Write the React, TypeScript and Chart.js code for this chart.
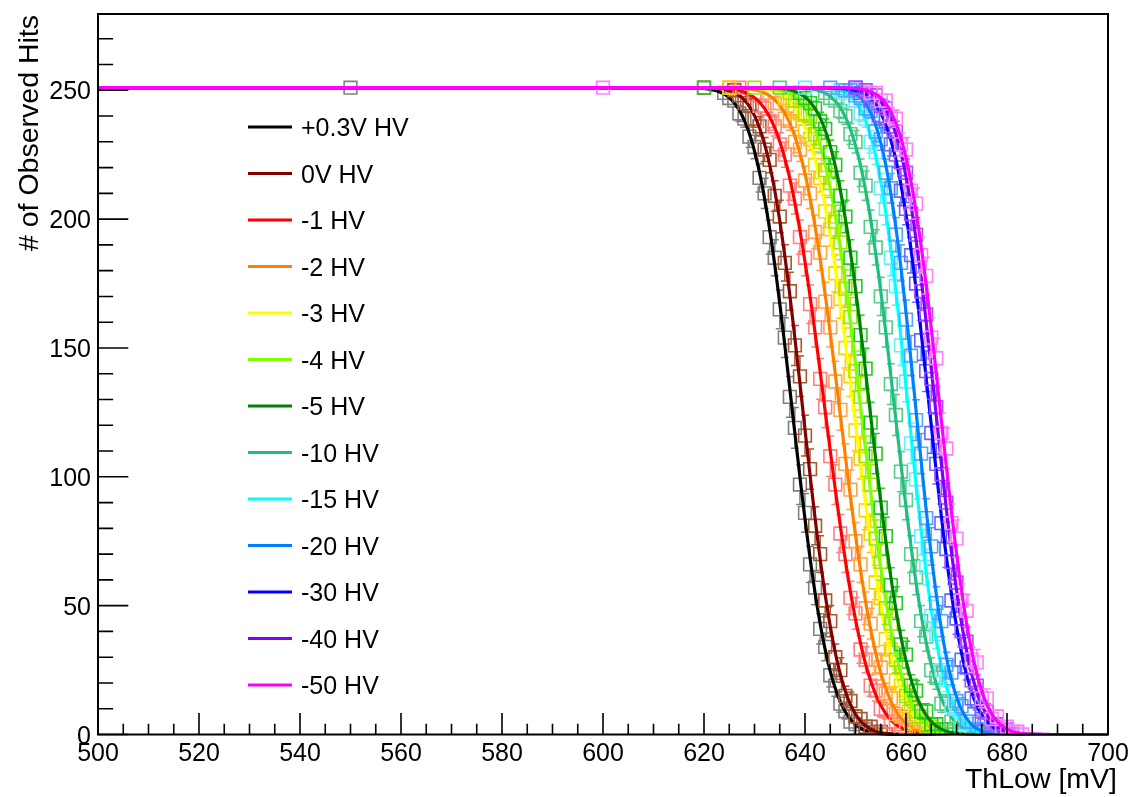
import { useEffect, useRef } from "react";
import { Chart, registerables } from "chart.js";

Chart.register(...registerables);

// ---- series definitions ----------------------------------------------------
const seriesLabels = [
  "+0.3V HV", "0V HV", "-1 HV", "-2 HV", "-3 HV", "-4 HV", "-5 HV",
  "-10 HV", "-15 HV", "-20 HV", "-30 HV", "-40 HV", "-50 HV",
];

const lineColors = [
  "#000000", "#840000", "#ff0000", "#ff8000", "#ffff00", "#80ff00", "#008000",
  "#1fbf7f", "#00ffff", "#0080ff", "#0000ff", "#8000ff", "#ff00ff",
];

const markerColors = [
  "#808080", "#a8582e", "#ff8080", "#ffa64d", "#ffcc00", "#9ee600", "#22cc22",
  "#55cc88", "#66eeff", "#4da6ff", "#6666ff", "#a64dff", "#ff80ff",
];

// erfc fit results: A * erfc((x - mean) / (sqrt(2) * sigma)) / 2
const fitAmplitude = [251, 251, 251, 251, 251, 251, 251, 251, 251, 251, 251, 251, 251];
const fitMean = [637.5, 639.6, 644.0, 646.9, 649.7, 651.1, 652.9, 657.8, 660.5, 662.0, 664.7, 665.9, 666.8];
const fitSigma = [5.8, 5.6, 6.5, 6.2, 6.3, 6.0, 5.9, 5.8, 5.2, 5.1, 5.5, 5.4, 5.5];

// ---- threshold scans (ThLow in mV, observed hits out of 251 triggers) --------
const triggers = 251;

// single coarse point taken before each fine scan
const coarseX = [550, 620, 627, 625, 625, 630, 620, 635, 640, 645, 650, 650, 600];
const coarseHits = [251, 251, 251, 251, 251, 251, 251, 251, 251, 251, 251, 251, 251];

// fine scan: first ThLow value, then 1 mV steps
const scanStart = [624, 626, 630, 633, 636, 637, 639, 644, 647, 648, 651, 652, 653];

const hitsP03V = [249, 247, 246, 241, 239, 232, 228, 216, 210, 193, 185, 165, 154, 131, 119, 97, 86, 66, 57, 41, 34, 23, 19, 12, 9, 5, 4, 2, 2, 1, 0];
const hits0V = [250, 248, 245, 244, 239, 236, 227, 223, 209, 201, 183, 172, 151, 139, 116, 103, 81, 70, 52, 44, 30, 25, 15, 13, 7, 6, 3, 3, 1, 1, 0];
const hitsM1 = [248, 244, 243, 238, 236, 229, 225, 213, 208, 193, 185, 167, 158, 138, 127, 108, 97, 78, 70, 53, 47, 33, 29, 19, 17, 10, 9, 5, 4, 2, 2];
const hitsM2 = [249, 245, 245, 239, 238, 230, 227, 215, 210, 195, 187, 168, 158, 137, 126, 105, 95, 75, 66, 49, 43, 29, 26, 16, 14, 8, 7, 3, 4, 1, 1];
const hitsM3 = [247, 246, 242, 241, 234, 231, 221, 216, 203, 196, 179, 169, 150, 139, 118, 107, 87, 78, 59, 53, 37, 33, 21, 19, 11, 10, 5, 5, 2, 2, 1];
const hitsM4 = [249, 246, 246, 241, 240, 233, 230, 219, 214, 199, 191, 173, 162, 141, 131, 108, 97, 76, 67, 49, 43, 29, 26, 15, 14, 7, 7, 3, 3, 1, 1];
const hitsM5 = [249, 247, 245, 243, 238, 235, 226, 221, 209, 201, 185, 174, 155, 142, 121, 109, 88, 77, 58, 51, 35, 31, 19, 17, 9, 9, 4, 4, 2, 2, 0];
const hitsM10 = [249, 247, 246, 242, 240, 233, 230, 218, 213, 197, 189, 170, 158, 136, 124, 102, 91, 70, 61, 44, 38, 25, 22, 12, 12, 5, 6, 2, 2, 1, 0];
const hitsM15 = [250, 249, 246, 246, 241, 239, 230, 226, 212, 204, 185, 174, 151, 137, 113, 99, 77, 65, 46, 39, 25, 21, 11, 10, 4, 4, 1, 2, 0, 1, 0];
const hitsM20 = [250, 250, 248, 247, 243, 242, 234, 231, 218, 212, 194, 183, 161, 147, 122, 109, 84, 73, 51, 44, 27, 24, 13, 11, 5, 5, 2, 2, 0, 1, 0];
const hitsM30 = [249, 249, 246, 245, 240, 238, 229, 225, 211, 204, 186, 175, 153, 141, 117, 105, 82, 72, 52, 45, 29, 26, 14, 13, 6, 6, 2, 3, 1, 1, 0];
const hitsM40 = [250, 248, 248, 244, 243, 236, 234, 222, 218, 202, 194, 172, 163, 138, 127, 101, 90, 67, 59, 40, 36, 21, 19, 9, 9, 4, 4, 1, 2, 0, 1];
const hitsM50 = [249, 249, 246, 246, 240, 239, 229, 227, 211, 206, 186, 178, 154, 146, 117, 111, 82, 76, 52, 48, 29, 28, 14, 14, 6, 7, 2, 3, 1, 1, 0];

const hitsBySeries = [
  hitsP03V, hits0V, hitsM1, hitsM2, hitsM3, hitsM4, hitsM5,
  hitsM10, hitsM15, hitsM20, hitsM30, hitsM40, hitsM50,
];

// ---- axes ------------------------------------------------------------------
const xMin = 500;
const xMax = 700;
const yMin = 0;
const yMax = 279.6;
const xTickLabels = [500, 520, 540, 560, 580, 600, 620, 640, 660, 680, 700];
const yTickLabels = [0, 50, 100, 150, 200, 250];
const xMinorStep = 5;
const yMinorStep = 10;

const xTitle = "ThLow [mV]";
const yTitle = "# of Observed Hits";

// complementary error function (Numerical Recipes erfcc)
function erfc(x: number): number {
  const z = Math.abs(x);
  const t = 1 / (1 + 0.5 * z);
  const r =
    t *
    Math.exp(
      -z * z - 1.26551223 +
        t * (1.00002368 + t * (0.37409196 + t * (0.09678418 + t * (-0.18628806 +
        t * (0.27886807 + t * (-1.13520398 + t * (1.48851587 + t * (-0.82215223 + t * 0.17087277))))))))
    );
  return x >= 0 ? r : 2 - r;
}

function fitValue(i: number, x: number): number {
  return 0.5 * fitAmplitude[i] * erfc((x - fitMean[i]) / (Math.SQRT2 * fitSigma[i]));
}

const FONT = "'Liberation Sans', Arial, Helvetica, sans-serif";

// binomial error bars drawn right after each marker dataset
const errorBarPlugin = {
  id: "errorBars",
  afterDatasetDraw(chart: any, args: any) {
    const ds = chart.data.datasets[args.index];
    if (!ds.errorBars) return;
    const { ctx, chartArea } = chart;
    const ys = chart.scales.y;
    const half = 6.5;
    const cap = 4;
    ctx.save();
    ctx.beginPath();
    ctx.rect(chartArea.left, chartArea.top, chartArea.right - chartArea.left, chartArea.bottom - chartArea.top);
    ctx.clip();
    ctx.strokeStyle = ds.pointBorderColor;
    ctx.lineWidth = 1.5;
    args.meta.data.forEach((pt: any, j: number) => {
      const v = ds.data[j].y;
      const err = Math.sqrt(Math.max(0, v * (1 - v / triggers)));
      if (err <= 0) return;
      const top = ys.getPixelForValue(v + err);
      const bot = ys.getPixelForValue(v - err);
      const x = pt.x;
      const y = pt.y;
      ctx.beginPath();
      if (y - top > half) {
        ctx.moveTo(x, y - half);
        ctx.lineTo(x, top);
        ctx.moveTo(x - cap, top);
        ctx.lineTo(x + cap, top);
      }
      if (bot - y > half) {
        ctx.moveTo(x, y + half);
        ctx.lineTo(x, bot);
        ctx.moveTo(x - cap, bot);
        ctx.lineTo(x + cap, bot);
      }
      ctx.stroke();
    });
    ctx.restore();
  },
};

// frame, inward ticks, tick labels, titles and legend box
const frameAxesPlugin = {
  id: "frameAxes",
  afterDraw(chart: any) {
    const { ctx, chartArea } = chart;
    const { left, right, top, bottom } = chartArea;
    const xs = chart.scales.x;
    const ys = chart.scales.y;
    const xMajorLen = 0.03 * (bottom - top);
    const yMajorLen = 0.03 * (right - left);

    ctx.save();
    ctx.strokeStyle = "#000";
    ctx.lineWidth = 2;
    ctx.strokeRect(left, top, right - left, bottom - top);

    ctx.lineWidth = 1.6;
    ctx.beginPath();
    for (let v = xMin; v <= xMax + 1e-9; v += xMinorStep) {
      const px = xs.getPixelForValue(v);
      const len = xTickLabels.includes(v) ? xMajorLen : xMajorLen / 2;
      ctx.moveTo(px, bottom);
      ctx.lineTo(px, bottom - len);
    }
    for (let v = yMin; v <= yMax + 1e-9; v += yMinorStep) {
      const py = ys.getPixelForValue(v);
      const len = yTickLabels.includes(v) ? yMajorLen : yMajorLen / 2;
      ctx.moveTo(left, py);
      ctx.lineTo(left + len, py);
    }
    ctx.stroke();

    ctx.fillStyle = "#000";
    ctx.font = `25px ${FONT}`;
    ctx.textAlign = "center";
    ctx.textBaseline = "alphabetic";
    xTickLabels.forEach((v) => {
      ctx.fillText(String(v), xs.getPixelForValue(v), bottom + 26);
    });
    ctx.textAlign = "right";
    yTickLabels.forEach((v) => {
      ctx.fillText(String(v), left - 7, ys.getPixelForValue(v) + 9);
    });

    ctx.font = `28.5px ${FONT}`;
    ctx.textAlign = "right";
    ctx.fillText(xTitle, right + 9, bottom + 53.5);
    ctx.save();
    ctx.translate(38, top + 1);
    ctx.rotate(-Math.PI / 2);
    ctx.textAlign = "right";
    ctx.fillText(yTitle, 0, 0);
    ctx.restore();

    // legend
    const lx0 = 248;
    const lx1 = 292;
    const ly0 = 127;
    const lstep = 46.5;
    ctx.font = `25px ${FONT}`;
    ctx.textAlign = "left";
    seriesLabels.forEach((label, i) => {
      const y = ly0 + i * lstep;
      ctx.strokeStyle = lineColors[i];
      ctx.lineWidth = 3;
      ctx.beginPath();
      ctx.moveTo(lx0, y);
      ctx.lineTo(lx1, y);
      ctx.stroke();
      ctx.fillStyle = "#000";
      ctx.fillText(label, 301, y + 9);
    });
    ctx.restore();
  },
};

export default function App() {
  const canvasRef = useRef<HTMLCanvasElement | null>(null);

  useEffect(() => {
    const canvas = canvasRef.current;
    if (!canvas) return;
    const n = seriesLabels.length;
    const datasets: any[] = [];
    seriesLabels.forEach((label, i) => {
      const points = [
        { x: coarseX[i], y: coarseHits[i] },
        ...hitsBySeries[i].map((h, j) => ({ x: scanStart[i] + j, y: h })),
      ];
      datasets.push({
        label,
        data: points,
        showLine: false,
        pointStyle: "rect",
        pointRadius: 9,
        pointBorderWidth: 1.6,
        pointBorderColor: markerColors[i],
        pointBackgroundColor: "rgba(0,0,0,0)",
        order: 2 * (n - 1 - i) + 1,
        clip: 0,
        errorBars: true,
      });
      const fit: { x: number; y: number }[] = [];
      for (let k = 0; k <= 800; k++) {
        const x = xMin + k * 0.25;
        fit.push({ x, y: fitValue(i, x) });
      }
      datasets.push({
        label: `${label} fit`,
        data: fit,
        showLine: true,
        borderColor: lineColors[i],
        borderWidth: 3.2,
        pointRadius: 0,
        tension: 0,
        order: 2 * (n - 1 - i),
        clip: 2,
      });
    });

    const chart = new Chart(canvas, {
      type: "scatter",
      data: { datasets },
      options: {
        animation: false,
        responsive: false,
        devicePixelRatio: 1,
        events: [],
        layout: { padding: { left: 98, right: 23, top: 14, bottom: 62.5 } },
        plugins: { legend: { display: false }, tooltip: { enabled: false }, title: { display: false } },
        scales: {
          x: { type: "linear", min: xMin, max: xMax, display: false },
          y: { type: "linear", min: yMin, max: yMax, display: false },
        },
      },
      plugins: [errorBarPlugin, frameAxesPlugin],
    });
    return () => chart.destroy();
  }, []);

  return (
    <div style={{ position: "fixed", left: 0, top: 0, width: 1131, height: 797, background: "#fff" }}>
      <canvas ref={canvasRef} width={1131} height={797} style={{ display: "block" }} />
    </div>
  );
}
